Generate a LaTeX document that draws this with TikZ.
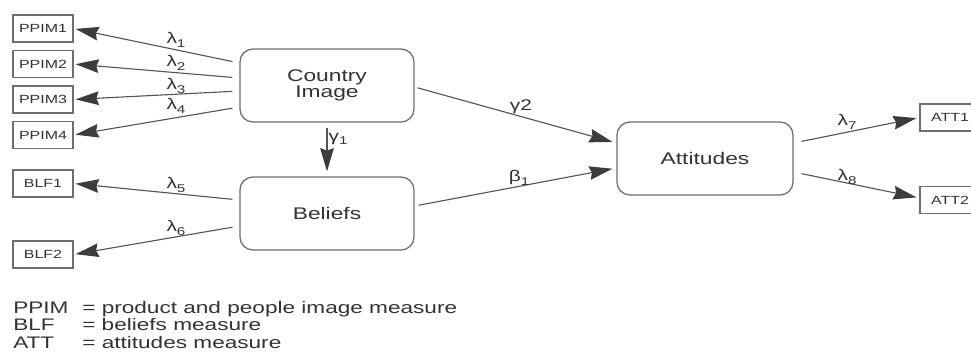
\documentclass[tikz,border=0pt]{standalone}
\usepackage{xcolor}
\usepackage{fontspec}
\setmainfont{Liberation Sans}[FakeStretch=1.35]
\usepackage{tikz}
\usetikzlibrary{calc}
\usetikzlibrary{arrows.meta}

\definecolor{r85g85b85}{rgb}{0.333333,0.333333,0.333333}
\definecolor{r60g60b60}{rgb}{0.235294,0.235294,0.235294}
\definecolor{r110g110b110}{rgb}{0.431373,0.431373,0.431373}
\definecolor{r50g50b60}{rgb}{0.196078,0.196078,0.235294}

\newcommand{\coefsub}[2]{#1\raisebox{-0.45ex}{\fontsize{8}{9}\selectfont #2}}

\tikzset{
  latent/.style={draw=r110g110b110, line width=0.032cm, rounded corners=0.325cm,
    minimum width=4.35cm, minimum height=1.825cm, align=center, fill=white,
    text=r50g50b60, font=\fontsize{12}{10.6}\selectfont},
  indic/.style={draw=r110g110b110, line width=0.028cm, minimum width=1.5cm,
    minimum height=0.675cm, inner sep=0pt, fill=white,
    text=r50g50b60, font=\fontsize{8.4}{9}\selectfont},
  load/.style={draw=r85g85b85, line width=0.028cm,
    -{Stealth[length=0.58cm, width=0.34cm, inset=0.06cm, color=r60g60b60]},
    shorten <=0.175cm, shorten >=0.05cm},
  coef/.style={inner sep=0pt, text=r50g50b60, font=\fontsize{11}{12}\selectfont}
}

\begin{document}
\begin{tikzpicture}[x=0.025cm,y=-0.025cm]
  \clip (0,0) rectangle (971,351);
  \fill[white] (0,0) rectangle (971,351);%

  % Drawing latent variables
  \node[latent] (ci)  at (327,85.5)  {Country\\Image};%
  \node[latent] (bel) at (327,213.5) {Beliefs};%
  \node[latent, minimum width=4.4cm] (att) at (705,158.5) {Attitudes};%

  % Drawing measures
  \node[indic] (p1) at (43,28.5)  {PPIM1};%
  \node[indic] (p2) at (43,64)    {PPIM2};%
  \node[indic] (p3) at (43,99.5)  {PPIM3};%
  \node[indic] (p4) at (43,135)   {PPIM4};%
  \node[indic] (b1) at (43,183.5) {BLF1};%
  \node[indic] (b2) at (43,254.5) {BLF2};%
  \node[indic] (a1) at (950,117.5) {ATT1};%
  \node[indic] (a2) at (950,200)   {ATT2};%

  % Drawing loadings of country image
  \draw[load] ($(ci.west)+(0,-22.5)$) -- (p1.east);%
  \draw[load] ($(ci.west)+(0,-7.5)$)  -- (p2.east);%
  \draw[load] ($(ci.west)+(0,5.5)$)   -- (p3.east);%
  \draw[load] ($(ci.west)+(0,21.5)$)  -- (p4.east);%

  % Drawing loadings of beliefs and attitudes
  \draw[load] ($(bel.west)+(0,-13.5)$) -- (b1.east);%
  \draw[load] ($(bel.west)+(0,12.5)$)  -- (b2.east);%
  \draw[load, shorten <=0.2cm, shorten >=0.075cm] ($(att.east)+(0,-15.5)$) -- (a1.west);%
  \draw[load, shorten <=0.2cm, shorten >=0.075cm] ($(att.east)+(0,13.5)$)  -- ($(a2.west)+(0,-2)$);%

  % Drawing structural paths
  \draw[load, shorten <=0.125cm, shorten >=0.125cm] (ci.south) -- (bel.north);%
  \draw[load, shorten <=0.075cm, shorten >=0.1cm] ($(ci.east)+(0,1.5)$) -- ($(att.west)+(0,-15.5)$);%
  \draw[load, shorten <=0.1cm, shorten >=0.1cm] ($(bel.east)+(0,-7.5)$) -- ($(att.west)+(0,9.5)$);%

  % Drawing coefficients
  \node[coef] (l1) at (176,40)  {\coefsub{λ}{1}};%
  \node[coef] (l2) at (176,63)  {\coefsub{λ}{2}};%
  \node[coef] (l3) at (176,86)  {\coefsub{λ}{3}};%
  \node[coef] (l4) at (176,106) {\coefsub{λ}{4}};%
  \node[coef] (l5) at (176,185) {\coefsub{λ}{5}};%
  \node[coef] (l6) at (176,228) {\coefsub{λ}{6}};%
  \node[coef] (l7) at (847,122) {\coefsub{λ}{7}};%
  \node[coef] (l8) at (847,177) {\coefsub{λ}{8}};%
  \node[coef] (g1) at (338,139) {\coefsub{γ}{1}};%
  \node[coef] (g2) at (521,107) {γ2};%
  \node[coef] (be) at (519,178) {\coefsub{β}{1}};%

  % Drawing legend
  \node[anchor=base west, inner sep=0pt, text=r50g50b60] (legend) at (13,313)
    {\fontsize{11.9}{12.45}\selectfont
     \begin{tabular}[t]{@{}p{1.725cm}@{}l@{}}
       PPIM & = product and people image measure\\
       BLF  & = beliefs measure\\
       ATT  & = attitudes measure
     \end{tabular}};%
\end{tikzpicture}
\end{document}
